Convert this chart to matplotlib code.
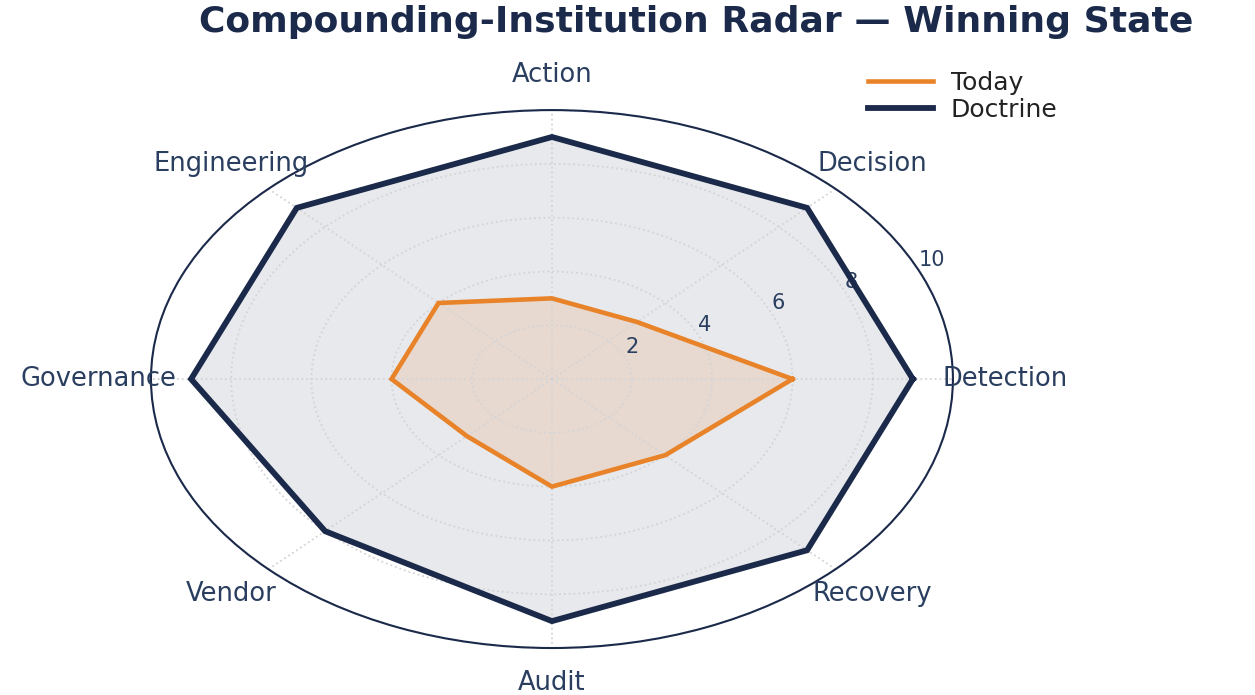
import numpy as np
import matplotlib
matplotlib.use('Agg')
import matplotlib.pyplot as plt

# axes go counter-clockwise starting from the east
categories = ['Detection', 'Decision', 'Action', 'Engineering',
              'Governance', 'Vendor', 'Audit', 'Recovery']
today = [6, 3, 3, 4, 4, 3, 4, 4]
doctrine = [9, 9, 9, 9, 9, 8, 9, 9]
r_ticks = [2, 4, 6, 8, 10]

ORANGE = '#E8832A'
NAVY = '#1B2A4A'
TXT = '#2A3F5F'

angles = np.linspace(0, 2 * np.pi, len(categories), endpoint=False)
theta = np.append(angles, angles[0])
t_closed = today + today[:1]
d_closed = doctrine + doctrine[:1]

fig = plt.figure(figsize=(12.55, 6.95), dpi=100)
ax = fig.add_axes([0.1203, 0.0676, 0.639, 0.774], projection='polar')
ax.set_aspect('auto')  # stretched, like the reference

ax.fill(theta, d_closed, color=NAVY, alpha=0.1, lw=0)
ax.fill(theta, t_closed, color=ORANGE, alpha=0.15, lw=0)
ax.plot(theta, t_closed, color=ORANGE, lw=3.3, label='Today', solid_joinstyle='miter')
ax.plot(theta, d_closed, color=NAVY, lw=4.2, label='Doctrine', solid_joinstyle='miter')

ax.set_ylim(0, 10)
ax.set_yticks(r_ticks)
ax.set_yticklabels([str(v) for v in r_ticks], fontsize=15, color=TXT)
ax.set_rlabel_position(24)
ax.set_xticks(angles)
ax.set_xticklabels([])
ax.grid(True, color='#d4d4d8', linestyle=':', lw=1.3)
ax.spines['polar'].set_color(NAVY)
ax.spines['polar'].set_linewidth(1.5)

for a, name in zip(angles, categories):
    ax.text(a, 11.3, name, ha='center', va='center', fontsize=18.5, color=TXT, clip_on=False)

fig.text(0.5546, 0.968, 'Compounding-Institution Radar \u2014 Winning State',
         ha='center', va='center', fontsize=26, fontweight='bold', color=NAVY)

fig.legend(loc='upper left', bbox_to_anchor=(0.674, 0.93), frameon=False,
           fontsize=18, handlelength=2.6, labelspacing=0.12, handletextpad=0.7,
           labelcolor='#222222')

fig.savefig('out.png', dpi=100, facecolor='white')
